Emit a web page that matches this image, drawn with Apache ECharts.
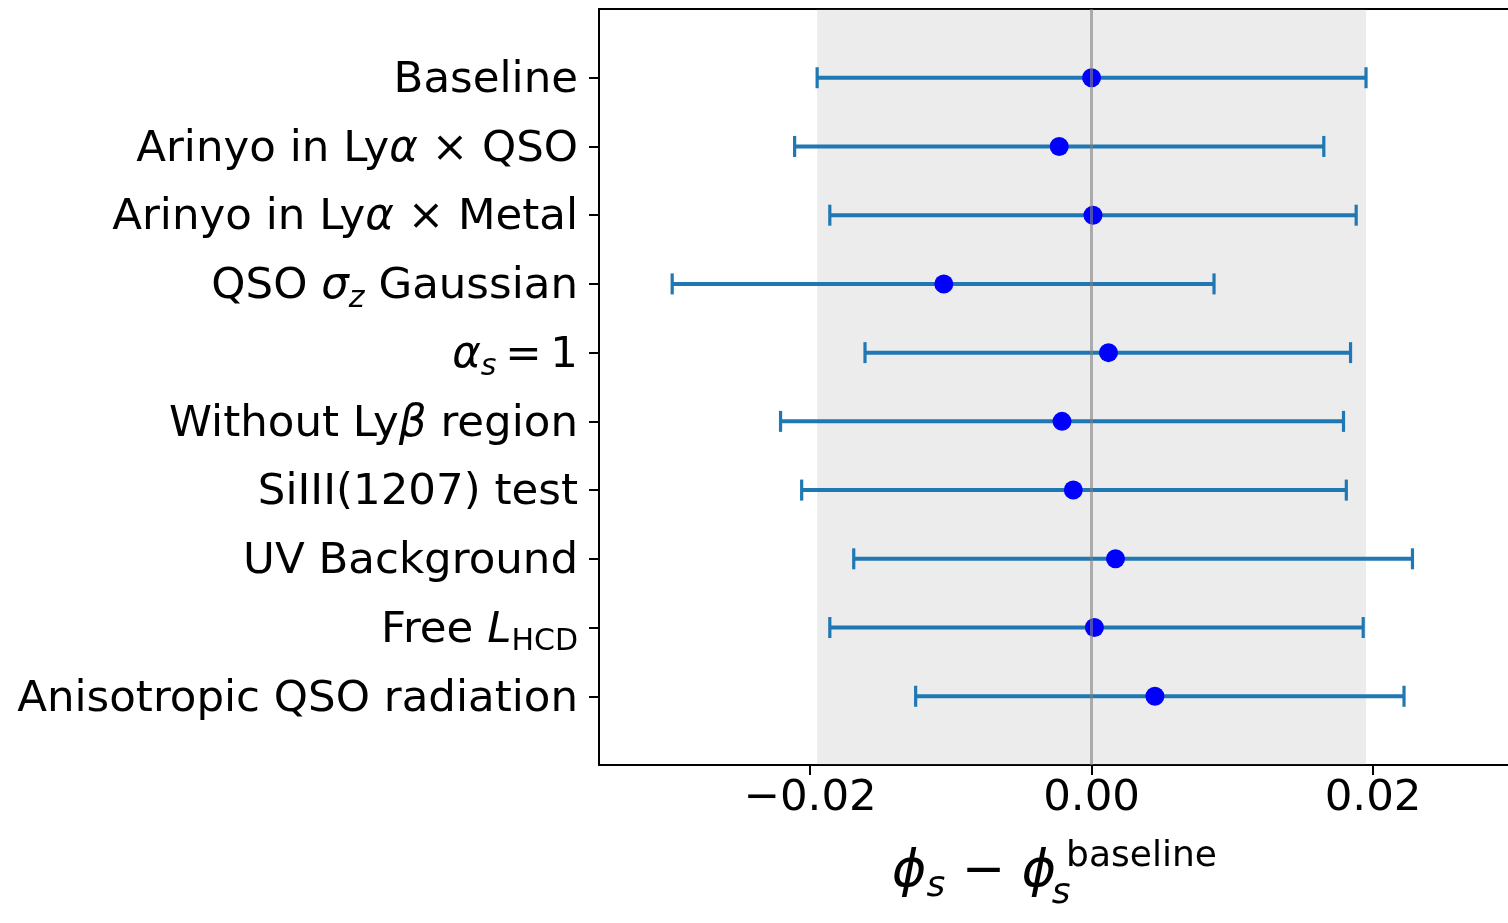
<!DOCTYPE html>
<html>
<head>
<meta charset="utf-8">
<script src="https://cdn.jsdelivr.net/npm/echarts@6/dist/echarts.min.js"></script>
<style>
  html, body { margin: 0; padding: 0; background: #ffffff; }
  #chart { width: 1508px; height: 923px; }
</style>
</head>
<body>
<div id="chart"></div>
<script>
// Analysis variants, top to bottom (rich-text markup for math parts)
const categories = [
  '{n|Baseline}',
  '{n|Arinyo in Ly}{i|α}{n| × QSO}',
  '{n|Arinyo in Ly}{i|α}{n| × Metal}',
  '{n|QSO }{i|σ}{isub|z}{n| Gaussian}',
  '{i|α}{isub|s}{n|\u2009=\u20091}',
  '{n|Without Ly}{i|β}{n| region}',
  '{n|SiIII(1207) test}',
  '{n|UV Background}',
  '{n|Free }{i|L}{sub|HCD}',
  '{n|Anisotropic QSO radiation}'
];

// Best-fit shift relative to the baseline and its interval bounds
const centers     = [0.0000, -0.0023, 0.0001, -0.0105, 0.0012, -0.0021, -0.0013, 0.0017, 0.0002, 0.0045];
const lowerBounds = [-0.0195, -0.0211, -0.0186, -0.0298, -0.0161, -0.0221, -0.0206, -0.0169, -0.0186, -0.0125];
const upperBounds = [0.0195, 0.0165, 0.0188, 0.0087, 0.0184, 0.0179, 0.0181, 0.0228, 0.0193, 0.0222];

const xTicks = [-0.02, 0.00, 0.02];
const referenceValue = 0;

const FONT = 'DejaVu Sans';
const FS = 43.5;
const rows = categories.map((_, i) => i);

const errorData = rows.map(i => [i, lowerBounds[i], upperBounds[i]]);
const pointData = rows.map(i => [centers[i], i]);

function renderErrorBar(params, api) {
  const row = api.value(0);
  const a = api.coord([api.value(1), row]);
  const b = api.coord([api.value(2), row]);
  const cap = 10.5;
  const color = '#1f77b4';
  return {
    type: 'group',
    children: [
      { type: 'line', shape: { x1: a[0], y1: a[1], x2: b[0], y2: b[1] },
        style: { stroke: color, lineWidth: 4 } },
      { type: 'line', shape: { x1: a[0], y1: a[1] - cap, x2: a[0], y2: a[1] + cap },
        style: { stroke: color, lineWidth: 3.2 } },
      { type: 'line', shape: { x1: b[0], y1: b[1] - cap, x2: b[0], y2: b[1] + cap },
        style: { stroke: color, lineWidth: 3.2 } }
    ]
  };
}

function tickText(v) {
  if (Math.abs(v) < 1e-12) return '0.00';
  return (v < 0 ? '\u2212' : '') + Math.abs(v).toFixed(2);
}

const chart = echarts.init(document.getElementById('chart'), null, { renderer: 'canvas' });

chart.setOption({
  animation: false,
  backgroundColor: '#ffffff',
  grid: {
    left: 599, top: 9, right: -2, bottom: 158,
    containLabel: false,
    outerBoundsMode: 'none',
    show: true, borderColor: '#000000', borderWidth: 2, backgroundColor: 'transparent'
  },
  xAxis: {
    type: 'value',
    min: -0.035,
    max: 0.02973,
    axisLine: { show: false, onZero: false },
    splitLine: { show: false },
    axisTick: { show: true, customValues: xTicks, length: 10, lineStyle: { color: '#000', width: 2 } },
    axisLabel: {
      customValues: xTicks,
      formatter: tickText,
      color: '#000', fontFamily: FONT, fontSize: FS, margin: 12
    },
    name: '{i|ϕ}{sub|s}{n| − }{i|ϕ}{sub2|s}{sup|baseline}',
    nameLocation: 'middle',
    nameGap: 67,
    nameTextStyle: {
      color: '#000', fontFamily: FONT, fontSize: 52,
      rich: {
        n:    { fontFamily: FONT, fontSize: 52, color: '#000' },
        i:    { fontFamily: FONT, fontSize: 52, fontStyle: 'italic', color: '#000' },
        sub:  { fontFamily: FONT, fontSize: 36, fontStyle: 'italic', color: '#000', padding: [30, 0, 0, 0] },
        sub2: { fontFamily: FONT, fontSize: 36, fontStyle: 'italic', color: '#000', padding: [44, 0, 0, 0], width: 10 },
        sup:  { fontFamily: FONT, fontSize: 36, color: '#000', padding: [0, 0, 30, 0] }
      }
    }
  },
  yAxis: {
    type: 'value',
    inverse: true,
    min: -1,
    max: 10,
    interval: 1,
    axisLine: { show: false, onZero: false },
    splitLine: { show: false },
    axisTick: { show: true, customValues: rows, length: 10, lineStyle: { color: '#000', width: 2 } },
    axisLabel: {
      customValues: rows,
      formatter: v => categories[v] || '',
      color: '#000', fontFamily: FONT, fontSize: FS, margin: 21,
      padding: [6, 0, 0, 0],
      rich: {
        n:    { fontFamily: FONT, fontSize: FS, color: '#000' },
        i:    { fontFamily: FONT, fontSize: FS, fontStyle: 'italic', color: '#000' },
        isub: { fontFamily: FONT, fontSize: 30, fontStyle: 'italic', color: '#000', padding: [24, 0, 0, 0] },
        sub:  { fontFamily: FONT, fontSize: 30, color: '#000', padding: [24, 0, 0, 0] }
      }
    }
  },
  series: [
    {
      name: 'band',
      type: 'line',
      data: [],
      z: 0,
      silent: true,
      markArea: {
        silent: true,
        itemStyle: { color: 'rgba(128,128,128,0.15)' },
        data: [[{ xAxis: lowerBounds[0] }, { xAxis: upperBounds[0] }]]
      }
    },
    {
      name: 'interval',
      type: 'custom',
      renderItem: renderErrorBar,
      data: errorData,
      encode: { x: [1, 2], y: 0 },
      z: 1,
      silent: true
    },
    {
      name: 'shift',
      type: 'scatter',
      data: pointData,
      symbol: 'circle',
      symbolSize: 19,
      itemStyle: { color: '#0000ff', opacity: 1 },
      z: 2,
      silent: true
    },
    {
      name: 'reference',
      type: 'line',
      data: [],
      z: 3,
      silent: true,
      markLine: {
        silent: true,
        symbol: 'none',
        label: { show: false },
        lineStyle: { color: 'rgba(128,128,128,0.6)', width: 3, type: 'solid' },
        data: [{ xAxis: referenceValue }]
      }
    }
  ]
});
</script>
</body>
</html>
